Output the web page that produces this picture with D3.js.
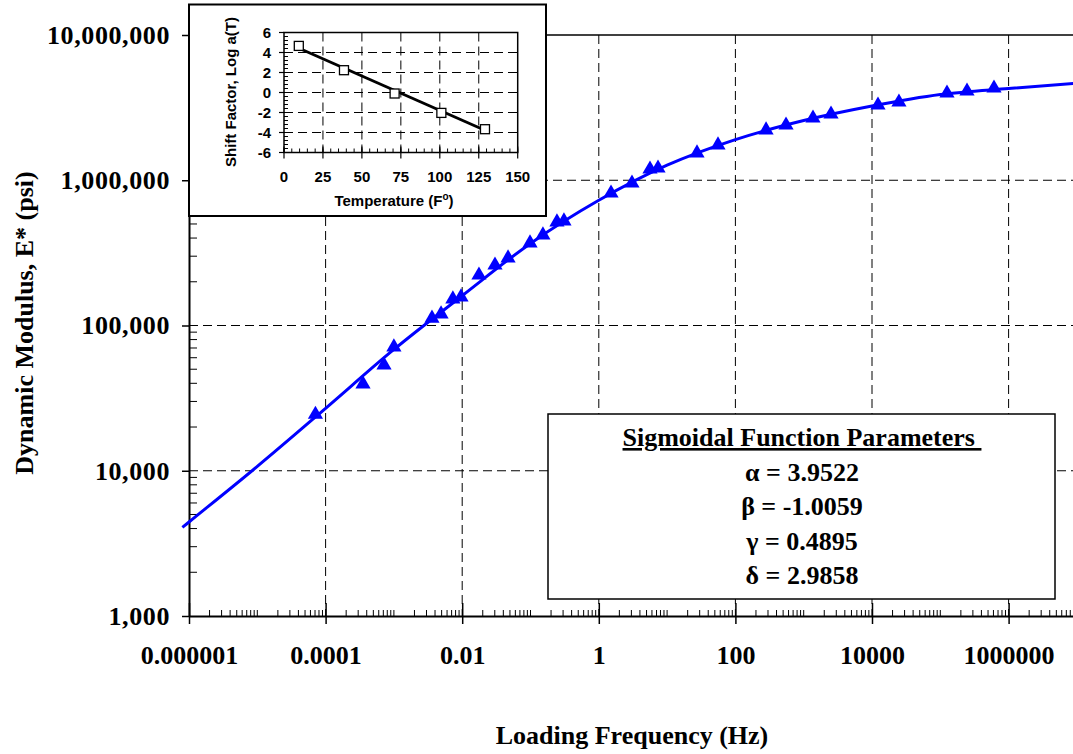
<!DOCTYPE html>
<html>
<head>
<meta charset="utf-8">
<script src="https://cdn.jsdelivr.net/npm/d3@7"></script>
<style>
  html, body { margin: 0; padding: 0; background: #fff; }
  svg { display: block; }
</style>
</head>
<body>
<svg id="chart" width="1073" height="754"></svg>
<script>
// ---------------- DATA ----------------
// Measured dynamic modulus points (triangles)
const pointFreq = [7.1e-5, 3.53e-4, 7.16e-4, 1.0e-3, 3.61e-3, 4.9e-3, 7.3e-3, 9.6e-3, 0.0176, 0.0302,
  0.0469, 0.0984, 0.152, 0.244, 0.309, 1.51, 3.06, 5.62, 7.36, 27.4,
  55.6, 281, 551, 1368, 2512, 12240, 24800, 125300, 246000, 611000];
const pointModulus = [24400, 39500, 53400, 71000, 112000, 120000, 152000, 157000, 222000, 260000,
  291000, 369000, 419000, 515000, 523000, 815000, 955000, 1192000, 1211000, 1537000,
  1745000, 2213000, 2394000, 2675000, 2851000, 3288000, 3449000, 3975000, 4105000, 4305000];
// Fitted master curve
const curveFreq = [8e-7, 1e-6, 1e-5, 1e-4, 1e-3, 1e-2, 1e-1, 1, 10, 100, 1e3, 1e4, 1e5, 1e6, 1e7];
const curveModulus = [4074, 4436, 10715, 26915, 68390, 160300, 367300, 727800, 1270000, 1905000,
  2576000, 3243000, 3890000, 4285000, 4656000];
// Axis ticks
const xTickValues = [1e-6, 1e-4, 1e-2, 1, 100, 1e4, 1e6];
const xTickLabels = ["0.000001", "0.0001", "0.01", "1", "100", "10000", "1000000"];
const yTickValues = [1e3, 1e4, 1e5, 1e6, 1e7];
const yTickLabels = ["1,000", "10,000", "100,000", "1,000,000", "10,000,000"];
// Inset: shift factors
const shiftTemp = [9.5, 38.5, 71, 101, 129];
const shiftLogA = [4.66, 2.23, -0.1, -2.04, -3.67];
const shiftFitTemp = [10, 130];
const shiftFitLogA = [4.4, -3.85];
const insetXTicks = [0, 25, 50, 75, 100, 125, 150];
const insetYTicks = [-6, -4, -2, 0, 2, 4, 6];
// Parameter box
const paramTitle = "Sigmoidal Function Parameters";
const paramLines = ["\u03B1 = 3.9522", "\u03B2 = -1.0059", "\u03B3 = 0.4895", "\u03B4 = 2.9858"];

// ---------------- DRAW ----------------
const svg = d3.select("#chart");
const serif = "'Liberation Serif', 'Times New Roman', serif";
const sans = "'Liberation Sans', Arial, sans-serif";
const blue = "#0000FF";

const L = 189, T = 35, B = 616;
const decX = 68.3;
const x = d3.scaleLog().domain([1e-6, 1e7]).range([L, L + 13 * decX]);
const y = d3.scaleLog().domain([1e3, 1e7]).range([B, T]);
const R = x(1e7);

// gridlines
const grid = svg.append("g");
grid.selectAll("line.vg").data(xTickValues.slice(1)).join("line")
  .attr("x1", d => x(d)).attr("x2", d => x(d)).attr("y1", T).attr("y2", B)
  .attr("stroke", "#000").attr("stroke-width", 1).attr("stroke-dasharray", "9,5");
grid.selectAll("line.hg").data(yTickValues.slice(1, -1)).join("line")
  .attr("x1", L).attr("x2", R).attr("y1", d => y(d)).attr("y2", d => y(d))
  .attr("stroke", "#000").attr("stroke-width", 1).attr("stroke-dasharray", "9,5");
// top border
svg.append("line").attr("x1", L).attr("x2", R).attr("y1", T).attr("y2", T)
  .attr("stroke", "#000").attr("stroke-width", 1.5);

// minor ticks
const minorX = [];
for (let e = -6; e < 7; e++) for (let n = 1; n <= 9; n++) {
  const v = n * Math.pow(10, e);
  if (!(n === 1 && (e % 2 === 0))) minorX.push(v);
}
svg.append("g").selectAll("line").data(minorX).join("line")
  .attr("x1", d => x(d)).attr("x2", d => x(d)).attr("y1", B).attr("y2", B - 6)
  .attr("stroke", "#000").attr("stroke-width", 1);
const minorY = [];
for (let e = 3; e < 7; e++) for (let n = 2; n <= 9; n++) minorY.push(n * Math.pow(10, e));
svg.append("g").selectAll("line").data(minorY).join("line")
  .attr("x1", L).attr("x2", L + 8).attr("y1", d => y(d)).attr("y2", d => y(d))
  .attr("stroke", "#000").attr("stroke-width", 1);

// axes
const xAxis = d3.axisBottom(x).tickValues(xTickValues).tickFormat((d, i) => xTickLabels[i])
  .tickSizeInner(8).tickSizeOuter(0).tickPadding(22);
const gx = svg.append("g").attr("transform", `translate(0,${B})`).call(xAxis);
gx.select(".domain").attr("stroke-width", 2);
gx.selectAll(".tick line").attr("y1", -13).attr("stroke-width", 1.5);
gx.selectAll(".tick text").attr("font-family", serif).attr("font-weight", "bold")
  .attr("font-size", 26).attr("fill", "#000");

const yAxis = d3.axisLeft(y).tickValues(yTickValues).tickFormat((d, i) => yTickLabels[i])
  .tickSizeInner(7).tickSizeOuter(0).tickPadding(12);
const gy = svg.append("g").attr("transform", `translate(${L},0)`).call(yAxis);
gy.select(".domain").attr("stroke-width", 2);
gy.selectAll(".tick line").attr("stroke-width", 1.5);
gy.selectAll(".tick text").attr("font-family", serif).attr("font-weight", "bold")
  .attr("font-size", 26).attr("fill", "#000").attr("letter-spacing", 0.6);

// curve
svg.append("defs").append("clipPath").attr("id", "clip")
  .append("rect").attr("x", 170).attr("y", T).attr("width", 1073 - 170).attr("height", B - T);
const curvePts = curveFreq.map((f, i) => [x(f), y(curveModulus[i])]);
svg.append("path").attr("clip-path", "url(#clip)")
  .attr("d", d3.line().curve(d3.curveMonotoneX)(curvePts))
  .attr("fill", "none").attr("stroke", blue).attr("stroke-width", 3);

// triangles
svg.append("g").selectAll("path").data(pointFreq).join("path")
  .attr("transform", (d, i) => `translate(${x(d)},${y(pointModulus[i])})`)
  .attr("d", d3.symbol(d3.symbolTriangle, 100))
  .attr("fill", blue);

// axis titles
svg.append("text").attr("x", 632).attr("y", 744).attr("text-anchor", "middle")
  .attr("font-family", serif).attr("font-weight", "bold").attr("font-size", 26)
  .text("Loading Frequency (Hz)");
svg.append("text").attr("transform", "translate(33,323) rotate(-90)").attr("text-anchor", "middle")
  .attr("font-family", serif).attr("font-weight", "bold").attr("font-size", 26)
  .text("Dynamic Modulus, E* (psi)");

// parameter box
svg.append("rect").attr("x", 548).attr("y", 414).attr("width", 507).attr("height", 185)
  .attr("fill", "#fff").attr("stroke", "#000").attr("stroke-width", 1.5);
svg.append("text").attr("x", 802).attr("y", 446).attr("text-anchor", "middle")
  .attr("font-family", serif).attr("font-weight", "bold").attr("font-size", 26)
  .attr("text-decoration", "underline").attr("xml:space", "preserve")
  .style("white-space", "pre").text(paramTitle + " ");
svg.append("g").selectAll("text").data(paramLines).join("text")
  .attr("x", 802).attr("y", (d, i) => 481 + i * 34.3).attr("text-anchor", "middle")
  .attr("font-family", serif).attr("font-weight", "bold").attr("font-size", 26)
  .text(d => d);

// ---------------- INSET ----------------
svg.append("rect").attr("x", 189).attr("y", 4.5).attr("width", 357).attr("height", 211.5)
  .attr("fill", "#fff").attr("stroke", "#000").attr("stroke-width", 2);
const ix = d3.scaleLinear().domain([0, 150]).range([284, 517.7]);
const iy = d3.scaleLinear().domain([-6, 6]).range([152.5, 32.5]);
const ig = svg.append("g");
ig.selectAll("line.vg").data(insetXTicks.slice(1, -1)).join("line")
  .attr("x1", d => ix(d)).attr("x2", d => ix(d)).attr("y1", iy(6)).attr("y2", iy(-6))
  .attr("stroke", "#000").attr("stroke-width", 1).attr("stroke-dasharray", "9,5");
ig.selectAll("line.hg").data(insetYTicks.slice(1, -1)).join("line")
  .attr("x1", ix(0)).attr("x2", ix(150)).attr("y1", d => iy(d)).attr("y2", d => iy(d))
  .attr("stroke", "#000").attr("stroke-width", 1).attr("stroke-dasharray", "9,5");
ig.append("rect").attr("x", ix(0)).attr("y", iy(6)).attr("width", ix(150) - ix(0))
  .attr("height", iy(-6) - iy(6)).attr("fill", "none").attr("stroke", "#000").attr("stroke-width", 1.5);
// minor ticks
ig.selectAll("line.mx").data(d3.range(0, 151, 5)).join("line")
  .attr("x1", d => ix(d)).attr("x2", d => ix(d)).attr("y1", iy(-6)).attr("y2", iy(-6) - 4)
  .attr("stroke", "#000").attr("stroke-width", 1);
ig.selectAll("line.my").data(d3.range(-6, 6.01, 0.4)).join("line")
  .attr("x1", ix(0)).attr("x2", ix(0) + 4).attr("y1", d => iy(d)).attr("y2", d => iy(d))
  .attr("stroke", "#000").attr("stroke-width", 1);
// major ticks
ig.selectAll("line.Mx").data(insetXTicks).join("line")
  .attr("x1", d => ix(d)).attr("x2", d => ix(d)).attr("y1", iy(-6) - 6).attr("y2", iy(-6) + 6)
  .attr("stroke", "#000").attr("stroke-width", 1.2);
ig.selectAll("line.My").data(insetYTicks).join("line")
  .attr("x1", ix(0) - 5).attr("x2", ix(0)).attr("y1", d => iy(d)).attr("y2", d => iy(d))
  .attr("stroke", "#000").attr("stroke-width", 1.2);
// labels
ig.selectAll("text.xl").data(insetXTicks).join("text")
  .attr("x", d => ix(d)).attr("y", 182).attr("text-anchor", "middle")
  .attr("font-family", sans).attr("font-weight", "bold").attr("font-size", 15).text(d => d);
ig.selectAll("text.yl").data(insetYTicks).join("text")
  .attr("x", 271).attr("y", d => iy(d) + 5.5).attr("text-anchor", "end")
  .attr("font-family", sans).attr("font-weight", "bold").attr("font-size", 15).text(d => d);
const tt = ig.append("text").attr("x", 394).attr("y", 206).attr("text-anchor", "middle")
  .attr("font-family", sans).attr("font-weight", "bold").attr("font-size", 15);
tt.append("tspan").text("Temperature (F");
tt.append("tspan").attr("dy", -6).attr("font-size", 10).text("o");
tt.append("tspan").attr("dy", 6).text(")");
ig.append("text").attr("transform", "translate(236,92) rotate(-90)").attr("text-anchor", "middle")
  .attr("font-family", sans).attr("font-weight", "bold").attr("font-size", 15)
  .text("Shift Factor, Log a(T)");
// fit line and squares
ig.append("path").attr("d", d3.line()(shiftFitTemp.map((t, i) => [ix(t), iy(shiftFitLogA[i])])))
  .attr("stroke", "#000").attr("stroke-width", 3).attr("fill", "none");
ig.selectAll("rect.sq").data(shiftTemp).join("rect")
  .attr("x", d => ix(d) - 4.5).attr("y", (d, i) => iy(shiftLogA[i]) - 4.5)
  .attr("width", 9).attr("height", 9).attr("fill", "#fff").attr("stroke", "#000").attr("stroke-width", 1.3);
</script>
</body>
</html>
